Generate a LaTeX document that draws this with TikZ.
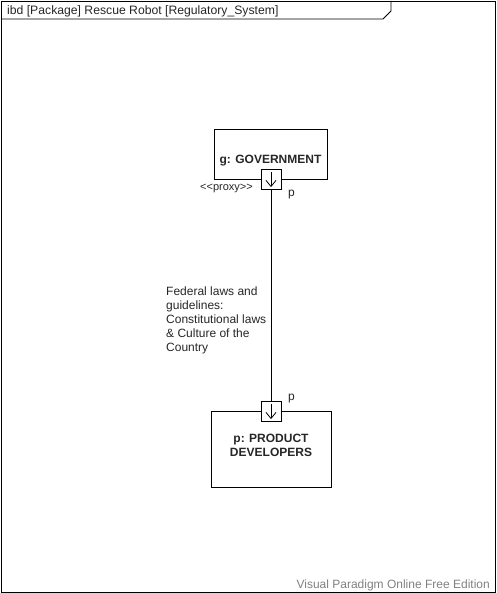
\documentclass[tikz,border=0pt]{standalone}
\usepackage{fontspec}
\setmainfont{Liberation Sans}
\begin{document}
\begin{tikzpicture}[x=1pt,y=-1pt,
  block/.style={draw=black,line width=0.9pt,fill=white,inner sep=0pt},
  portbox/.style={draw=black,line width=0.9pt,fill=white,minimum width=20pt,minimum height=20pt,inner sep=0pt},
  lbl/.style={inner sep=0pt,font=\fontsize{12}{14}\selectfont,text=black!85},
  small/.style={inner sep=0pt,font=\fontsize{11}{12}\selectfont,text=black!85}]
\useasboundingbox (0,0) rectangle (496,593);
% frame
\draw[line width=0.9pt] (1,1) rectangle (495,592);
\draw[line width=0.9pt] (1,19) -- (383,19) -- (391,11) -- (391,1);
\node[lbl,anchor=west,font=\fontsize{12.2}{14}\selectfont] (title) at (7,11) {ibd [Package] Rescue Robot [Regulatory\_System]};
% government
\node[block,minimum width=113pt,minimum height=50pt] (gov) at (270.5,154) {};
\node[lbl,font=\fontsize{12}{14}\selectfont\bfseries] (govl) at (270.5,161) {g: GOVERNMENT};
\node[portbox] (gp) at (271,179) {};
\draw[line width=0.8pt] ([yshift=-3pt]gp.north) -- ([yshift=3pt]gp.south);
\draw[line width=0.8pt] ([xshift=-5pt,yshift=9pt]gp.south) -- ([yshift=3pt]gp.south) -- ([xshift=5pt,yshift=9pt]gp.south);
\node[small,anchor=east] (proxy) at (253,188) {{<}{<}proxy{>}{>}};
\node[lbl,anchor=west] (gpl) at (288,195) {p};
% developers
\node[block,minimum width=120pt,minimum height=76pt] (dev) at (271,449) {};
\node[lbl,font=\fontsize{12}{14}\selectfont\bfseries,align=center] (devl) at (271,445) {p: PRODUCT\\DEVELOPERS};
\node[portbox] (dp) at (271,411) {};
\draw[line width=0.8pt] ([yshift=-3pt]dp.north) -- ([yshift=3pt]dp.south);
\draw[line width=0.8pt] ([xshift=-5pt,yshift=9pt]dp.south) -- ([yshift=3pt]dp.south) -- ([xshift=5pt,yshift=9pt]dp.south);
\node[lbl,anchor=west] (dpl) at (288,399) {p};
% connector
\draw[line width=0.9pt] (gp.south) -- (dp.north);
\node[lbl,anchor=north west,align=left] (conn) at (166,286.5) {Federal laws and\\guidelines:\\Constitutional laws\\\& Culture of the\\Country};
% watermark
\node[lbl,anchor=east,text=black!50] (wm) at (490,585) {Visual Paradigm Online Free Edition};
\end{tikzpicture}
\end{document}
